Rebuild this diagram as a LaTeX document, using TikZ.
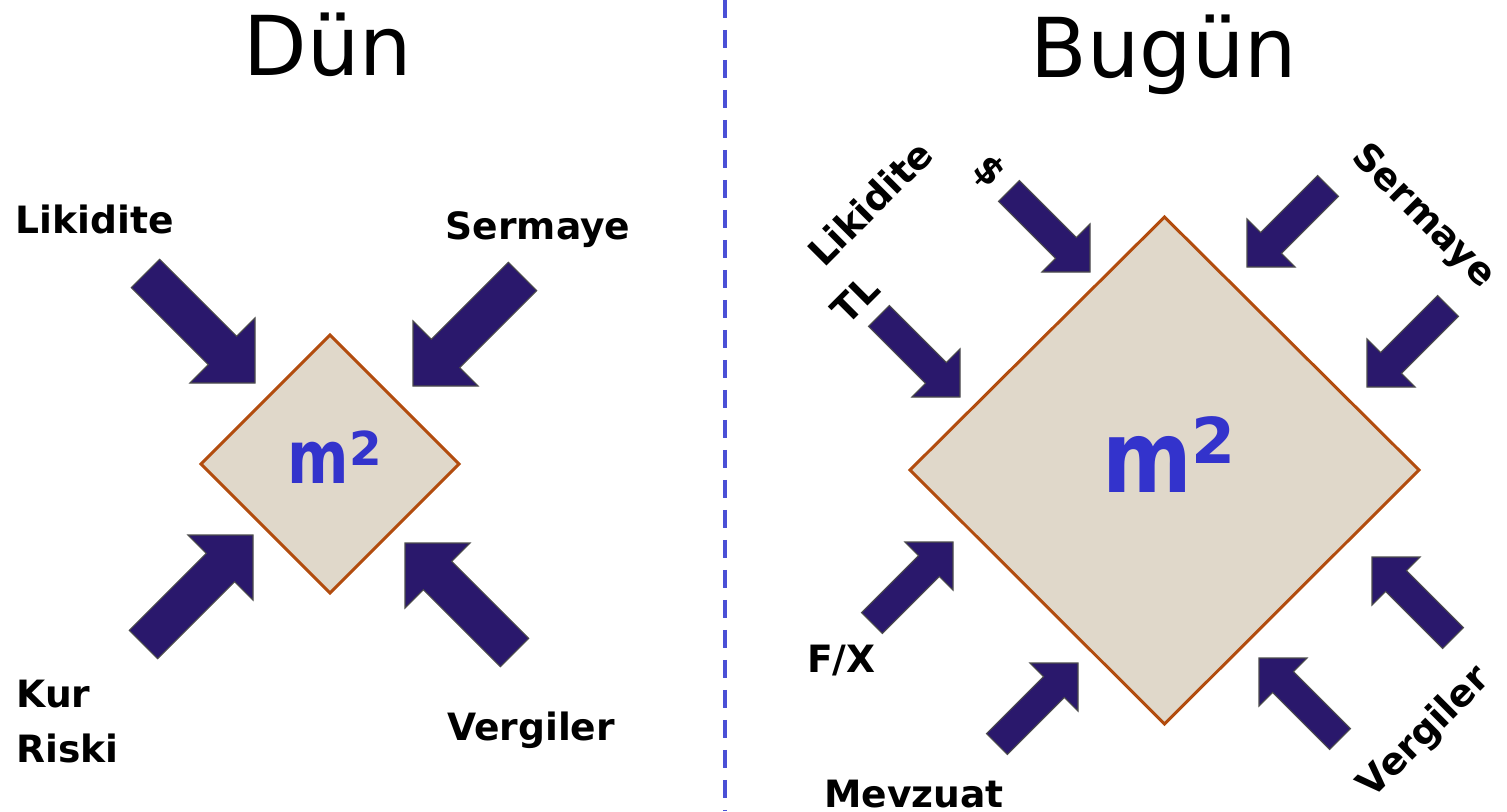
\documentclass[tikz,border=0pt]{standalone}
\usepackage{fontspec}
\usepackage{graphicx}
\setmainfont{DejaVu Sans}
\definecolor{arrowblue}{RGB}{42,24,108}
\definecolor{sandfill}{RGB}{224,216,202}
\definecolor{sandline}{RGB}{178,76,14}
\definecolor{mblue}{RGB}{51,51,204}
\definecolor{splitblue}{RGB}{74,80,214}
\tikzset{
	lbl/.style={font=\fontsize{10.7}{15.6}\selectfont\bfseries, inner sep=0pt},
	title/.style={font=\fontsize{23.5}{28}\selectfont, inner sep=0pt},
	plot/.style={fill=sandfill, draw=sandline, line width=0.85pt, line join=miter},
	blockarrow/.pic={
		\filldraw[fill=arrowblue, draw=black!70, line width=0.3pt]
			(0,0) -- (-0.46,0.46) -- (-0.46,0.20) -- (-1.55,0.20)
			-- (-1.55,-0.20) -- (-0.46,-0.20) -- (-0.46,-0.46) -- cycle;
	}
}
\begin{document}
\begin{tikzpicture}
	\useasboundingbox (0,0) rectangle (15.07,-8.11);
	\draw[splitblue, line width=1.1pt, dash pattern=on 0.18cm off 0.12cm] (7.25,0) -- (7.25,-8.11);
	
	% Dün
	\node[title, anchor=base] (dun) at (3.28,-0.75) {Dün};
	\draw[plot] (3.30,-3.35) -- (4.59,-4.64) -- (3.30,-5.93) -- (2.01,-4.64) -- cycle;
	\node[inner sep=0pt, text=mblue, anchor=base, font=\fontsize{21}{21}\selectfont\bfseries] (msmall) at (3.35,-4.83)
		{\scalebox{0.8}[1]{m}\raisebox{5pt}{\fontsize{13.3}{13}\selectfont 2}};
	\pic[rotate=-45] at (2.55,-3.83) {blockarrow};
	\pic[rotate=-135] at (4.13,-3.86) {blockarrow};
	\pic[rotate=45] at (2.53,-5.35) {blockarrow};
	\pic[rotate=135] at (4.05,-5.43) {blockarrow};
	\node[lbl, anchor=base] (likleft) at (0.95,-2.33) {Likidite};
	\node[lbl, anchor=base] (serleft) at (5.38,-2.39) {Sermaye};
	\node[lbl, anchor=base west, align=left] (kur) at (0.16,-7.62) {Kur\\Riski};
	\node[lbl, anchor=base] (verleft) at (5.31,-7.40) {Vergiler};
	
	% Bugün
	\node[title, anchor=base] (bugun) at (11.64,-0.77) {Bugün};
	\draw[plot] (11.645,-2.17) -- (14.19,-4.70) -- (11.645,-7.24) -- (9.10,-4.70) -- cycle;
	\node[inner sep=0pt, text=mblue, anchor=base, font=\fontsize{28.5}{28}\selectfont\bfseries] (mlarge) at (11.69,-4.92)
		{\scalebox{0.86}[1]{m}\raisebox{8pt}{\fontsize{18}{18}\selectfont 2}};
	\pic[rotate=-45, scale=0.74] at (10.90,-2.72) {blockarrow};
	\pic[rotate=-45, scale=0.74] at (9.60,-3.97) {blockarrow};
	\pic[rotate=-135, scale=0.74] at (12.47,-2.67) {blockarrow};
	\pic[rotate=-135, scale=0.74] at (13.67,-3.87) {blockarrow};
	\pic[rotate=45, scale=0.74] at (9.53,-5.42) {blockarrow};
	\pic[rotate=45, scale=0.74] at (10.78,-6.63) {blockarrow};
	\pic[rotate=135, scale=0.74] at (13.72,-5.57) {blockarrow};
	\pic[rotate=135, scale=0.74] at (12.59,-6.58) {blockarrow};
	\node[lbl, rotate=45] (likright) at (8.70,-2.03) {Likidite};
	\node[lbl, rotate=45] (tl) at (8.55,-2.99) {TL};
	\node[lbl, rotate=-45] (usd) at (9.89,-1.72) {\$};
	\node[lbl, rotate=-45] (serright) at (14.23,-2.17) {Sermaye};
	\node[lbl, anchor=base] (fx) at (8.415,-6.72) {F/X};
	\node[lbl, anchor=base] (mevzuat) at (9.14,-8.07) {Mevzuat};
	\node[lbl, rotate=45] (verright) at (14.25,-7.33) {Vergiler};
\end{tikzpicture}
\end{document}
